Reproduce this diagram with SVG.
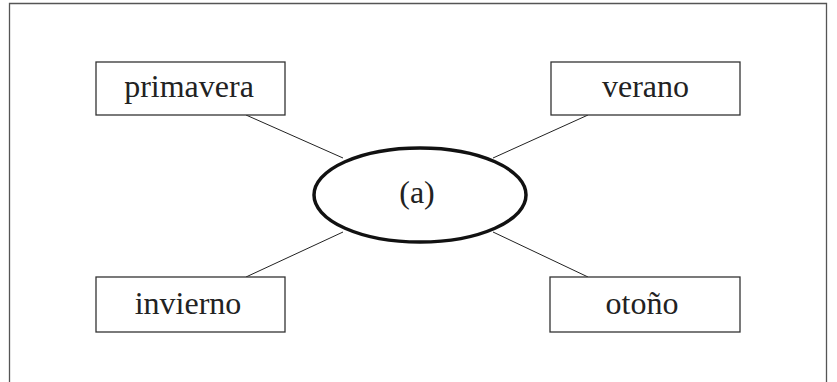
<svg xmlns="http://www.w3.org/2000/svg" width="837" height="382" viewBox="0 0 837 382">
<style>
.box{fill:#fff;stroke:#333;stroke-width:1.3}
.t{font-family:"Liberation Serif","DejaVu Serif",serif;font-size:32px;fill:#222;text-anchor:middle}
.c{stroke:#222;stroke-width:1}
</style>
<rect width="837" height="382" fill="#fff"/>
<path d="M9.5 382V3.5H826.5V382" fill="none" stroke="#555" stroke-width="1.3"/>
<g id="connectors">
<line class="c" x1="246" y1="115" x2="343" y2="158"/>
<line class="c" x1="588" y1="115" x2="493" y2="158"/>
<line class="c" x1="246" y1="277" x2="343" y2="232"/>
<line class="c" x1="588" y1="277" x2="493" y2="232"/>
</g>
<g id="center">
<ellipse cx="420" cy="195" rx="106" ry="47" fill="#fff" stroke="#111" stroke-width="3.5"/>
<text class="t" x="417" y="203">(a)</text>
</g>
<g id="primavera">
<rect class="box" x="96" y="62" width="189" height="53"/>
<text class="t" x="189" y="97">primavera</text>
</g>
<g id="verano">
<rect class="box" x="551" y="62" width="189" height="53"/>
<text class="t" x="645.5" y="97">verano</text>
</g>
<g id="invierno">
<rect class="box" x="96" y="277" width="189" height="55"/>
<text class="t" x="188" y="314">invierno</text>
</g>
<g id="otono">
<rect class="box" x="550" y="277" width="190" height="55"/>
<text class="t" x="642" y="314">otoño</text>
</g>
</svg>
